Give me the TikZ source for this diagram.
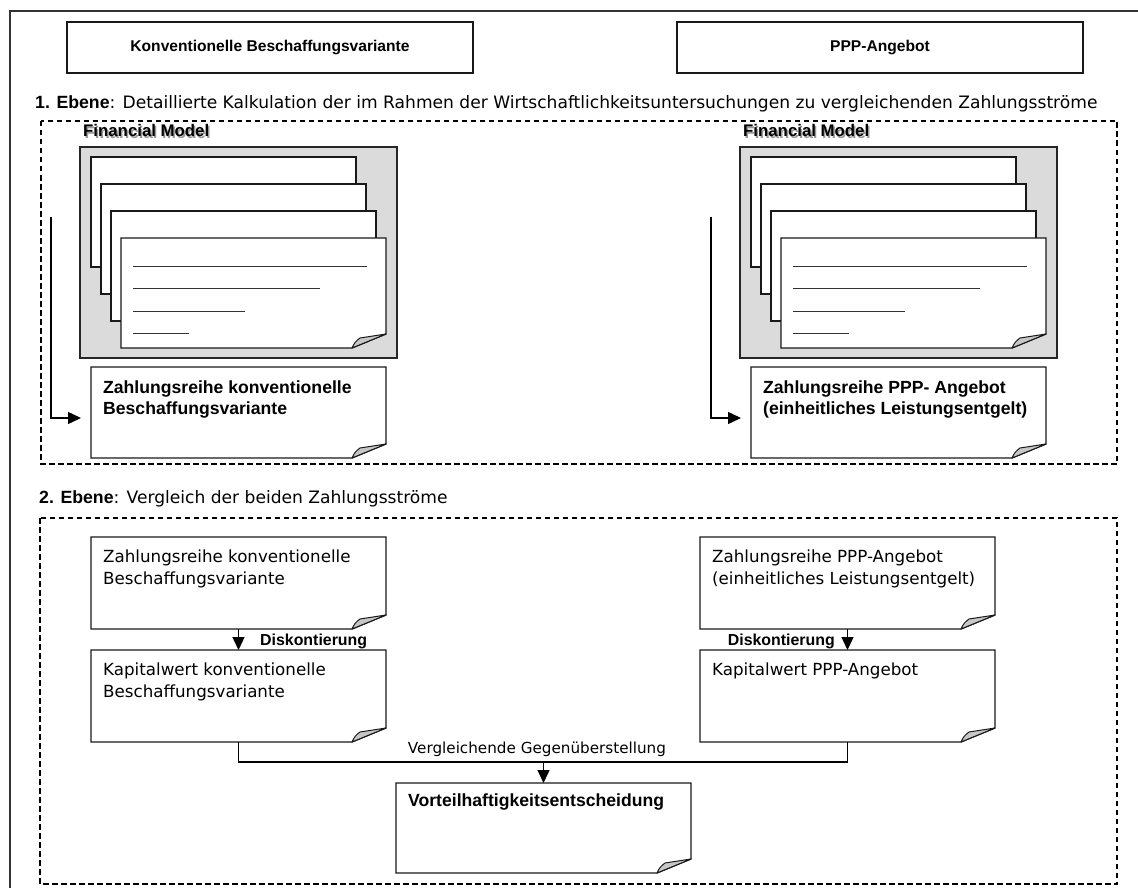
\documentclass[tikz,border=0pt]{standalone}
\usepackage{fontspec}
\setmainfont{Liberation Sans}
\newfontfamily\regfont{DejaVu Sans}
\usetikzlibrary{arrows.meta,calc}
\newcommand\fsz[2]{\fontsize{#1}{#2}\selectfont}
% page shape with a curled lower right corner, drawn around a named node
\newcommand\curlpage[1]{%
  \path[docline] (#1.north west) -- (#1.north east) -- ($(#1.south east)+(0,-14)$)
    -- ($(#1.south east)+(-34,0)$) -- (#1.south west) -- cycle;
  \path[flap] ($(#1.south east)+(-34,0)$) .. controls ($(#1.south east)+(-31,-6)$) .. ($(#1.south east)+(-26,-10)$)
    -- ($(#1.south east)+(0,-14)$) -- cycle;}
\newcommand\hdtext[1]{{\bfseries\fsz{15.6}{19}#1}}
\tikzset{
  frame/.style={draw=black!80, line width=1.4pt},
  dashbox/.style={draw=black, line width=1.8pt, dash pattern=on 5.5pt off 3.5pt},
  docline/.style={draw=black!90, line width=1.3pt, fill=white},
  flap/.style={fill=black!22, draw=black!90, line width=1pt, line join=round},
  shapebox/.style={inner sep=0pt, outer sep=0pt, minimum width=#1},
  conn/.style={draw=black, line width=1.4pt},
  arr/.style={conn, -{Triangle[length=13pt,width=12pt]}},
  hdbox/.style={draw=black!90, line width=1.4pt, minimum width=406pt, minimum height=51pt, inner sep=0pt},
  modelbox/.style={draw=black!85, fill=black!14, line width=1.6pt, inner sep=0pt,
    minimum width=317pt, minimum height=211pt},
  sheet/.style={draw=black!90, fill=white, line width=1.3pt, inner sep=0pt,
    minimum width=265pt, minimum height=110pt},
  rule/.style={draw=black!80, line width=0.9pt},
  boldtxt/.style={inner sep=0pt, anchor=north west, align=left, font=\bfseries\fsz{17.6}{21}},
  regtxt/.style={inner sep=0pt, anchor=north west, align=left, font=\regfont\fsz{16.7}{22}},
  fmtitle/.style={inner sep=0pt, anchor=base west, font=\bfseries\fsz{16.8}{20}},
  leveltxt/.style={inner sep=0pt, anchor=base west, font=\regfont\fsz{17.1}{20}},
  edgelbl/.style={inner sep=0pt, font=\bfseries\fsz{15.9}{19}},
}
\begin{document}
\begin{tikzpicture}[x=1pt,y=-1pt]
\useasboundingbox (0,0) rectangle (1138,888);
% outer frame (only top and left edges fall inside the page)
\draw[frame] (10,1000) -- (10,11) -- (1200,11);

% column headers
\node[hdbox] (hL) at (270,47.5) {\hdtext{Konventionelle Beschaffungsvariante}};
\node[hdbox] (hR) at (880,47.5) {\hdtext{PPP-Angebot}};

% level 1
\node[leveltxt] (lv1) at (35,109) {{\fontspec{Liberation Sans}\bfseries\fsz{17.7}{20}1. Ebene}: Detaillierte Kalkulation der im Rahmen der Wirtschaftlichkeitsuntersuchungen zu vergleichenden Zahlungsströme};
\draw[dashbox] (41,121) rectangle (1117,464);

\foreach \s/\side in {0/L,660/R}{
  \begin{scope}[xshift=\s pt]
    \node[fmtitle, text=black!40] at (84.5,138.5) {Financial Model};
    \node[fmtitle] (fm\side) at (83,137) {Financial Model};
    \node[modelbox] (mb\side) at (238.5,252.5) {};
    \node[sheet] (pa\side) at (223.5,212) {};
    \node[sheet] (pb\side) at (233.5,239) {};
    \node[sheet] (pc\side) at (243.5,266) {};
    \node[shapebox=265pt, minimum height=110pt] (pd\side) at (253.5,293) {};
    \curlpage{pd\side}
    \draw[rule] ($(pd\side.north west)+(12,28)$) -- +(234,0);
    \draw[rule] ($(pd\side.north west)+(12,50)$) -- +(187,0);
    \draw[rule] ($(pd\side.north west)+(12,73)$) -- +(112,0);
    \draw[rule] ($(pd\side.north west)+(12,95)$) -- +(56,0);
    \node[shapebox=295pt, minimum height=91pt] (z\side) at (238.5,412.5) {};
    \curlpage{z\side}
    \coordinate (s\side) at (51,217);
    \coordinate (e\side) at (81,418);
    \draw[arr] (s\side) |- (e\side);
  \end{scope}
}
\node[boldtxt] (tL) at ($(zL.north west)+(12,14)$) {Zahlungsreihe konventionelle\\Beschaffungsvariante};
\node[boldtxt] (tR) at ($(zR.north west)+(12,14)$) {Zahlungsreihe PPP- Angebot\\(einheitliches Leistungsentgelt)};

% level 2
\node[leveltxt] (lv2) at (39,503) {{\fontspec{Liberation Sans}\bfseries\fsz{17.7}{20}2. Ebene}: Vergleich der beiden Zahlungsströme};
\draw[dashbox] (40,518) rectangle (1117,884);

\node[shapebox=295pt, minimum height=92pt] (a1) at (238.5,583) {};
\node[shapebox=295pt, minimum height=92pt] (a2) at (238.5,696) {};
\node[shapebox=295pt, minimum height=92pt] (b1) at (847.5,583) {};
\node[shapebox=295pt, minimum height=92pt] (b2) at (847.5,696) {};
\node[shapebox=295pt, minimum height=90pt] (v) at (543.5,828) {};
\foreach \n in {a1,a2,b1,b2,v}{\curlpage{\n}}

\node[regtxt] at ($(a1.north west)+(12,13)$) {Zahlungsreihe konventionelle\\Beschaffungsvariante};
\node[regtxt] at ($(a2.north west)+(12,13)$) {Kapitalwert konventionelle\\Beschaffungsvariante};
\node[regtxt] at ($(b1.north west)+(12,13)$) {Zahlungsreihe PPP-Angebot\\(einheitliches Leistungsentgelt)};
\node[regtxt] at ($(b2.north west)+(12,13)$) {Kapitalwert PPP-Angebot};
\node[boldtxt] at ($(v.north west)+(12,11)$) {Vorteilhaftigkeitsentscheidung};

\draw[arr] (a1.south) -- (a2.north);
\draw[arr] (b1.south) -- (b2.north);
\node[edgelbl, anchor=base west] (dL) at (260,645) {Diskontierung};
\node[edgelbl, anchor=base east] (dR) at (835,645) {Diskontierung};

\coordinate (mid) at (543.5,762);
\draw[conn] (a2.south) |- (b2.south |- mid) -- (b2.south);
\draw[arr] (mid) -- (v.north);
\node[inner sep=0pt, anchor=base, font=\regfont\fsz{15.2}{18}] (cmp) at (537,753) {Vergleichende Gegenüberstellung};
\end{tikzpicture}
\end{document}
